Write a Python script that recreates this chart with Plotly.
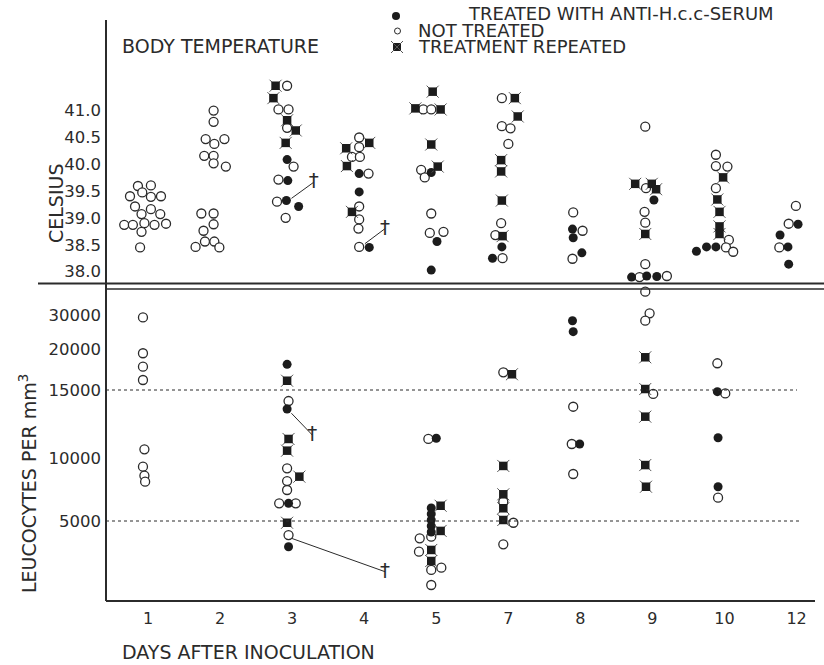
import numpy as np
import plotly.graph_objects as go

W, H = 824, 665
days = ["1", "2", "3", "4", "5", "7", "8", "9", "10", "12"]

# ---------------- BODY TEMPERATURE (Celsius) ----------------
temp_open_day = (["1"] * 17 + ["2"] * 17 + ["3"] * 8 + ["4"] * 9 + ["5"] * 7 + ["7"] * 7
                 + ["8"] * 3 + ["9"] * 7 + ["10"] * 7 + ["12"] * 3)
temp_open_dx = [-0.07, 0.11, -0.18, -0.01, 0.11, 0.25, -0.11, 0.11, -0.02, 0.24, -0.26, -0.14, 0.02, 0.16, 0.32, -0.02, -0.04,
                -0.02, -0.02, -0.13, -0.01, 0.13, -0.15, -0.02, -0.02, 0.15, -0.19, -0.02, -0.02, -0.16, -0.27, -0.14, -0.01, 0.06,
                0, -0.12, 0.02, 0, 0.09, -0.12, -0.14, -0.02,
                0, 0, -0.10, 0.01, 0.13, 0, 0, -0.01, 0,
                -0.11, 0, -0.14, -0.09, 0, -0.02, 0.17,
                -0.02, -0.02, 0.10, 0.07, -0.03, -0.11, -0.01,
                -0.03, 0.10, -0.04,
                -0.03, -0.02, -0.04, -0.03, -0.03, -0.11, 0.27,
                -0.05, -0.05, 0.11, -0.05, 0.13, 0.09, 0.19,
                0.06, -0.04, -0.17]
temp_open_c = [39.59, 39.60, 39.40, 39.47, 39.39, 39.40, 39.21, 39.16, 39.07, 39.07, 38.87, 38.87, 38.90, 38.87, 38.89, 38.74, 38.45,
               40.99, 40.78, 40.46, 40.37, 40.46, 40.15, 40.15, 40.01, 39.95, 39.08, 39.08, 38.88, 38.76, 38.46, 38.56, 38.56, 38.45,
               41.45, 41.01, 41.01, 40.67, 39.95, 39.71, 39.30, 39.00,
               40.49, 40.31, 40.13, 40.13, 39.82, 39.21, 38.97, 38.80, 38.46,
               41.01, 41.01, 39.89, 39.75, 39.08, 38.72, 38.74,
               41.22, 40.70, 40.66, 40.37, 38.90, 38.68, 38.25,
               39.10, 38.76, 38.24,
               40.69, 39.55, 39.11, 38.91, 38.14, 37.90, 37.92,
               40.17, 39.96, 39.95, 39.55, 38.59, 38.45, 38.37,
               39.22, 38.89, 38.45]

temp_fill_day = ["3"] * 4 + ["4"] * 3 + ["5"] * 3 + ["7"] * 2 + ["8"] * 3 + ["9"] * 4 + ["10"] * 3 + ["12"] * 4
temp_fill_dx = [0, 0.01, -0.01, 0.16, 0, 0, 0.14, 0, 0.08, 0, -0.02, -0.15, -0.04, -0.03, 0.09,
                0.09, -0.22, -0.01, 0.13, -0.32, -0.18, -0.05, 0.09, -0.16, -0.05, -0.04]
temp_fill_c = [40.08, 39.69, 39.32, 39.21, 39.82, 39.48, 38.45, 39.84, 38.56, 38.03, 38.46, 38.25,
               38.79, 38.63, 38.35, 39.33, 37.90, 37.92, 37.91, 38.38, 38.46, 38.46, 38.88, 38.68, 38.46, 38.14]

temp_rep_day = ["3"] * 5 + ["4"] * 4 + ["5"] * 5 + ["7"] * 6 + ["9"] * 4 + ["10"] * 5
temp_rep_dx = [-0.16, -0.19, 0, 0.12, -0.02, -0.18, 0.14, -0.17, -0.10, 0.02, -0.22, 0.13, 0, 0.09,
               0.16, 0.2, -0.03, -0.03, -0.02, -0.01, -0.17, 0.06, 0.12, -0.03, 0.05, -0.03, 0, 0, 0]
temp_rep_c = [41.45, 41.22, 40.81, 40.62, 40.39, 40.29, 40.39, 39.96, 39.11, 41.34, 41.03, 41.01, 40.36, 39.95,
              41.22, 40.88, 40.07, 39.86, 39.32, 38.66, 39.63, 39.63, 39.53, 38.70, 39.75, 39.34, 39.11, 38.84, 38.70]

# deaths (line from animal to dagger)
temp_death_day = ["3", "4"]
temp_death_dx0 = [0.06, 0.08]
temp_death_c0 = [39.36, 38.52]
temp_death_dx1 = [0.37, 0.36]
temp_death_c1 = [39.66, 38.80]

temp_ticks = [38.0, 38.5, 39.0, 39.5, 40.0, 40.5, 41.0]

# ---------------- LEUCOCYTES PER mm3 ----------------
leuc_open_day = ["1"] * 8 + ["3"] * 7 + ["5"] * 7 + ["7"] * 4 + ["8"] * 3 + ["9"] * 4 + ["10"] * 3
leuc_open_dx = [0, 0, 0, 0, 0.02, 0, 0.02, 0.03,
                0.02, 0, 0, 0, -0.11, 0.12, 0.02,
                -0.04, -0.16, 0, -0.17, 0, 0.14, 0,
                0, 0, 0.14, 0,
                -0.03, -0.05, -0.03,
                -0.03, 0.03, -0.03, 0.08,
                -0.03, 0.08, -0.02]
leuc_open_v = [29300, 19480, 17840, 16220, 10640, 9310, 8600, 8120,
               14190, 9180, 8170, 7460, 6400, 6400, 4120,
               11400, 3920, 4020, 3080, 1940, 2080, 1000,
               17160, 6530, 4890, 3540,
               13770, 11030, 8730,
               36850, 30500, 28320, 14710,
               18260, 14750, 6850]

leuc_fill_day = ["3"] * 4 + ["5"] * 6 + ["8"] * 3 + ["10"] * 3
leuc_fill_dx = [0, 0, 0.02, 0.02, 0.07, 0, 0, 0, 0, 0, -0.04, -0.03, 0.06, -0.03, -0.02, -0.02]
leuc_fill_v = [18130, 13600, 6400, 3390, 11450, 6030, 5560, 5080, 4690, 4310,
               28320, 25090, 11030, 14880, 11490, 7720]

leuc_rep_day = ["3"] * 5 + ["5"] * 4 + ["7"] * 5 + ["9"] * 5
leuc_rep_dx = [0, 0.02, 0, 0.17, 0, 0.13, 0.13, 0, 0, 0.12, 0, 0, 0, 0, -0.03, -0.03, -0.03, -0.03, -0.02]
leuc_rep_v = [16130, 11400, 10540, 8520, 4890, 6210, 4380, 3190, 2500,
              16920, 9370, 7120, 6010, 5080, 18990, 15120, 13040, 9440, 7720]

leuc_death_day = ["3", "3"]
leuc_death_dx0 = [0.06, 0.06]
leuc_death_v0 = [13290, 3920]
leuc_death_dx1 = [0.35, 1.36]
leuc_death_v1 = [11690, 1830]

leuc_ticks = [5000, 10000, 15000, 20000, 30000]
leuc_limits = [5000, 15000]   # dotted reference lines

# the printed leucocyte scale is not uniform: axis position of each scale value
leuc_scale_val = [0, 5000, 10000, 15000, 20000, 30000, 40000]
leuc_scale_pos = [0, 80, 143, 211, 252, 286, 320]


def lscale(v):
    return np.interp(v, leuc_scale_val, leuc_scale_pos)


def xpos(day_list, dx_list):
    return [days.index(d) + dx for d, dx in zip(day_list, dx_list)]


# ---------------- styling ----------------
INK = "#2b2b2b"
FONT = "DejaVu Sans"
TXT = 19
LEG = 18
open_marker = dict(symbol="circle", size=9, color="white", line=dict(color=INK, width=1.3))
fill_marker = dict(symbol="circle", size=9, color="#1c1c1c", line=dict(color="#1c1c1c", width=0))
rep_marker = dict(symbol="square", size=8.5, color="#1c1c1c", line=dict(width=0))
rep_x_marker = dict(symbol="x-thin", size=12, line=dict(color="#555", width=1))

fig = go.Figure()


def add_panel(yref, ox, oy, fx, fy, rx, ry, d):
    fig.add_trace(go.Scatter(x=ox, y=oy, mode="markers", marker=open_marker, yaxis=yref,
                             showlegend=False, cliponaxis=False, hoverinfo="skip"))
    fig.add_trace(go.Scatter(x=fx, y=fy, mode="markers", marker=fill_marker, yaxis=yref,
                             showlegend=False, cliponaxis=False, hoverinfo="skip"))
    fig.add_trace(go.Scatter(x=rx, y=ry, mode="markers", marker=rep_x_marker, yaxis=yref,
                             showlegend=False, cliponaxis=False, hoverinfo="skip"))
    fig.add_trace(go.Scatter(x=rx, y=ry, mode="markers", marker=rep_marker, yaxis=yref,
                             showlegend=False, cliponaxis=False, hoverinfo="skip"))
    x0, y0, x1, y1 = d
    for a, b, c, e in zip(x0, y0, x1, y1):
        fig.add_trace(go.Scatter(x=[a, c], y=[b, e], mode="lines", line=dict(color=INK, width=1),
                                 yaxis=yref, showlegend=False, hoverinfo="skip"))
    fig.add_trace(go.Scatter(x=x1, y=y1, mode="text", text=["†"] * len(x1), yaxis=yref,
                             textfont=dict(family=FONT, size=20, color=INK),
                             showlegend=False, cliponaxis=False, hoverinfo="skip"))


add_panel("y",
          xpos(temp_open_day, temp_open_dx), temp_open_c,
          xpos(temp_fill_day, temp_fill_dx), temp_fill_c,
          xpos(temp_rep_day, temp_rep_dx), temp_rep_c,
          (xpos(temp_death_day, temp_death_dx0), temp_death_c0,
           xpos(temp_death_day, temp_death_dx1), temp_death_c1))

add_panel("y2",
          xpos(leuc_open_day, leuc_open_dx), lscale(leuc_open_v),
          xpos(leuc_fill_day, leuc_fill_dx), lscale(leuc_fill_v),
          xpos(leuc_rep_day, leuc_rep_dx), lscale(leuc_rep_v),
          (xpos(leuc_death_day, leuc_death_dx0), lscale(leuc_death_v0),
           xpos(leuc_death_day, leuc_death_dx1), lscale(leuc_death_v1)))


def px(x):
    return x / W


def py(y):
    return 1 - y / H


shapes = []
# axes and separator
shapes.append(dict(type="line", xref="paper", yref="paper", x0=px(106), x1=px(106), y0=py(20), y1=py(601),
                   line=dict(color=INK, width=2)))
shapes.append(dict(type="line", xref="paper", yref="paper", x0=px(106), x1=px(815), y0=py(601), y1=py(601),
                   line=dict(color=INK, width=2)))
shapes.append(dict(type="line", xref="paper", yref="paper", x0=px(38), x1=1, y0=py(283.5), y1=py(283.5),
                   line=dict(color=INK, width=2)))
shapes.append(dict(type="line", xref="paper", yref="paper", x0=px(106), x1=1, y0=py(289), y1=py(289),
                   line=dict(color=INK, width=1.3)))
for v, xe in zip(leuc_limits, [px(802), px(797)]):
    shapes.append(dict(type="line", xref="paper", yref="y2", x0=px(106), x1=xe, y0=float(lscale(v)),
                       y1=float(lscale(v)), line=dict(color=INK, width=1, dash="3px,3px")))

# legend markers
shapes.append(dict(type="circle", xref="paper", yref="paper", x0=px(392), x1=px(400), y0=py(12), y1=py(20),
                   fillcolor="#1c1c1c", line=dict(width=0)))
shapes.append(dict(type="circle", xref="paper", yref="paper", x0=px(394.5), x1=px(400.5), y0=py(28), y1=py(34),
                   fillcolor="white", line=dict(color=INK, width=1)))
shapes.append(dict(type="rect", xref="paper", yref="paper", x0=px(393), x1=px(401), y0=py(43), y1=py(51),
                   fillcolor="#1c1c1c", line=dict(width=0)))
for a, b in [((391, 41), (403, 53)), ((391, 53), (403, 41))]:
    shapes.append(dict(type="line", xref="paper", yref="paper", x0=px(a[0]), y0=py(a[1]), x1=px(b[0]),
                       y1=py(b[1]), line=dict(color="#555", width=1)))

annotations = []


def ann(text, x, y, size, xanchor="left", yanchor="middle", angle=0):
    annotations.append(dict(text=text, x=px(x), y=py(y), xref="paper", yref="paper", showarrow=False,
                            xanchor=xanchor, yanchor=yanchor, textangle=angle,
                            font=dict(family=FONT, size=size, color=INK)))


ann("BODY TEMPERATURE", 120, 46, TXT)
ann("TREATED WITH ANTI-H.c.c-SERUM", 466, 14, LEG)
ann("NOT TREATED", 416, 30, LEG)
ann("TREATMENT REPEATED", 416, 46, LEG)
ann("CELSIUS", 56, 203, TXT, xanchor="center", angle=-90)
ann("LEUCOCYTES PER mm<sup>3</sup>", 28, 484, TXT, xanchor="center", angle=-90)
ann("DAYS AFTER INOCULATION", 120, 652, TXT)

fig.update_layout(
    width=W, height=H, margin=dict(l=0, r=0, t=0, b=0),
    paper_bgcolor="white", plot_bgcolor="white",
    showlegend=False, shapes=shapes, annotations=annotations,
    xaxis=dict(domain=[px(106), 1], range=[-0.513, 9.45], anchor="y2",
               tickvals=list(range(len(days))), ticktext=days, ticks="", showline=False,
               showgrid=False, zeroline=False, ticklabelshift=5, ticklabelstandoff=6,
               tickfont=dict(family=FONT, size=16, color=INK)),
    yaxis=dict(domain=[py(284), py(20)], range=[41 - (284 - 110) / 53.9, 41 - (20 - 110) / 53.9],
               tickvals=temp_ticks, ticktext=[f"{t:.1f}" for t in temp_ticks], ticks="",
               showline=False, showgrid=False, zeroline=False, ticklabelstandoff=4,
               tickfont=dict(family=FONT, size=16.5, color=INK)),
    yaxis2=dict(domain=[py(601), py(289)], range=[0, 312],
                tickvals=[float(lscale(v)) for v in leuc_ticks], ticktext=[str(v) for v in leuc_ticks],
                ticks="", showline=False, showgrid=False, zeroline=False, ticklabelstandoff=4,
                tickfont=dict(family=FONT, size=16.5, color=INK)),
)

fig.write_html("out.html", config={"displayModeBar": False},
               post_script="document.body.style.margin='0';")
